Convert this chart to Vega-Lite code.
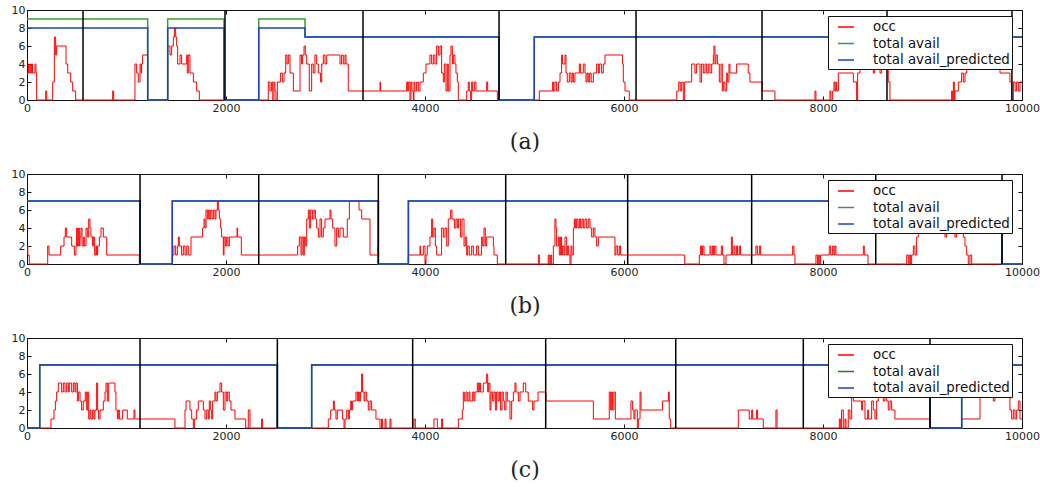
{
"$schema": "https://vega.github.io/schema/vega-lite/v6.json",
"background": "white",
"padding": {"left": 10, "top": 3, "right": 5, "bottom": 5},
"config": {
  "view": {"stroke": "#111", "strokeWidth": 1},
  "axis": {"grid": false, "domain": false, "labelFlush": false, "labelOverlap": false, "tickSize": -4, "tickColor": "#111", "tickWidth": 1, "labelFont": "DejaVu Sans", "labelFontSize": 11, "labelColor": "#222", "labelPadding": 6, "titleFont": "DejaVu Serif", "titleFontSize": 22, "titleFontWeight": "normal", "titleColor": "#222", "titlePadding": 18},
  "legend": {"orient": "none", "legendX": 801, "legendY": 6, "title": null, "symbolType": "stroke", "symbolSize": 256, "symbolStrokeWidth": 1.5, "labelFont": "DejaVu Sans", "labelFontSize": 13.4, "labelColor": "#111", "fillColor": "white", "strokeColor": "#111", "padding": 2, "symbolOffset": 7, "labelOffset": 18, "rowPadding": 0.5}
},
"datasets": {
  "occA": [{"x":0,"v":3},{"x":13,"v":4},{"x":20,"v":3},{"x":30,"v":4},{"x":38,"v":3},{"x":47,"v":4},{"x":55,"v":3},{"x":80,"v":4},{"x":90,"v":3},{"x":97,"v":0},{"x":188,"v":1},{"x":198,"v":0},{"x":258,"v":2},{"x":275,"v":7},{"x":288,"v":5},{"x":298,"v":6},{"x":392,"v":4},{"x":409,"v":3},{"x":439,"v":2},{"x":459,"v":1},{"x":489,"v":0},{"x":861,"v":1},{"x":871,"v":0},{"x":1085,"v":4},{"x":1102,"v":3},{"x":1119,"v":2},{"x":1136,"v":4},{"x":1146,"v":3},{"x":1152,"v":4},{"x":1162,"v":5},{"x":1213,"v":0},{"x":1414,"v":6},{"x":1437,"v":5},{"x":1454,"v":6},{"x":1471,"v":7},{"x":1481,"v":8},{"x":1494,"v":7},{"x":1504,"v":6},{"x":1514,"v":4},{"x":1538,"v":5},{"x":1554,"v":4},{"x":1605,"v":5},{"x":1611,"v":3},{"x":1621,"v":5},{"x":1638,"v":3},{"x":1672,"v":2},{"x":1705,"v":1},{"x":1732,"v":0},{"x":2425,"v":2},{"x":2442,"v":1},{"x":2459,"v":2},{"x":2470,"v":0},{"x":2482,"v":2},{"x":2492,"v":1},{"x":2502,"v":0},{"x":2516,"v":2},{"x":2549,"v":3},{"x":2566,"v":2},{"x":2583,"v":3},{"x":2600,"v":5},{"x":2613,"v":4},{"x":2626,"v":5},{"x":2643,"v":3},{"x":2677,"v":1},{"x":2744,"v":5},{"x":2760,"v":4},{"x":2770,"v":5},{"x":2784,"v":6},{"x":2797,"v":5},{"x":2811,"v":4},{"x":2837,"v":1},{"x":2861,"v":4},{"x":2877,"v":3},{"x":2894,"v":5},{"x":2911,"v":4},{"x":2928,"v":3},{"x":2951,"v":2},{"x":2962,"v":4},{"x":2978,"v":5},{"x":2995,"v":4},{"x":3012,"v":5},{"x":3146,"v":4},{"x":3162,"v":5},{"x":3179,"v":4},{"x":3196,"v":5},{"x":3206,"v":4},{"x":3229,"v":1},{"x":3548,"v":2},{"x":3554,"v":1},{"x":3816,"v":2},{"x":3826,"v":1},{"x":3836,"v":2},{"x":3849,"v":0},{"x":3859,"v":2},{"x":3869,"v":1},{"x":3883,"v":0},{"x":3889,"v":2},{"x":3899,"v":1},{"x":3916,"v":2},{"x":3933,"v":1},{"x":3950,"v":2},{"x":3983,"v":3},{"x":4010,"v":4},{"x":4050,"v":5},{"x":4067,"v":4},{"x":4084,"v":5},{"x":4100,"v":4},{"x":4117,"v":6},{"x":4134,"v":5},{"x":4151,"v":6},{"x":4167,"v":3},{"x":4184,"v":2},{"x":4194,"v":4},{"x":4211,"v":1},{"x":4224,"v":4},{"x":4234,"v":1},{"x":4251,"v":5},{"x":4261,"v":6},{"x":4275,"v":4},{"x":4285,"v":5},{"x":4301,"v":4},{"x":4311,"v":3},{"x":4325,"v":2},{"x":4335,"v":0},{"x":4419,"v":1},{"x":4435,"v":2},{"x":4445,"v":1},{"x":4459,"v":0},{"x":4469,"v":2},{"x":4479,"v":1},{"x":4496,"v":2},{"x":4512,"v":1},{"x":4620,"v":2},{"x":4630,"v":1},{"x":4727,"v":0},{"x":5149,"v":1},{"x":5283,"v":2},{"x":5290,"v":1},{"x":5306,"v":2},{"x":5323,"v":1},{"x":5340,"v":2},{"x":5357,"v":3},{"x":5373,"v":5},{"x":5383,"v":4},{"x":5407,"v":5},{"x":5417,"v":3},{"x":5430,"v":2},{"x":5450,"v":3},{"x":5467,"v":2},{"x":5480,"v":3},{"x":5491,"v":2},{"x":5507,"v":3},{"x":5551,"v":4},{"x":5564,"v":3},{"x":5591,"v":4},{"x":5608,"v":3},{"x":5618,"v":2},{"x":5630,"v":3},{"x":5641,"v":2},{"x":5655,"v":3},{"x":5670,"v":2},{"x":5692,"v":3},{"x":5725,"v":4},{"x":5742,"v":3},{"x":5752,"v":4},{"x":5775,"v":3},{"x":5792,"v":4},{"x":5809,"v":5},{"x":5986,"v":4},{"x":5993,"v":2},{"x":6010,"v":1},{"x":6053,"v":0},{"x":6530,"v":1},{"x":6550,"v":2},{"x":6565,"v":1},{"x":6580,"v":2},{"x":6596,"v":0},{"x":6610,"v":2},{"x":6680,"v":4},{"x":6713,"v":3},{"x":6730,"v":4},{"x":6764,"v":2},{"x":6780,"v":4},{"x":6797,"v":3},{"x":6814,"v":4},{"x":6831,"v":3},{"x":6847,"v":4},{"x":6864,"v":3},{"x":6881,"v":4},{"x":6898,"v":5},{"x":6904,"v":6},{"x":6914,"v":4},{"x":6924,"v":5},{"x":6938,"v":4},{"x":6958,"v":2},{"x":6975,"v":4},{"x":6988,"v":1},{"x":6998,"v":2},{"x":7015,"v":1},{"x":7032,"v":3},{"x":7042,"v":2},{"x":7055,"v":4},{"x":7065,"v":3},{"x":7132,"v":4},{"x":7249,"v":3},{"x":7266,"v":2},{"x":7390,"v":1},{"x":7517,"v":0},{"x":7919,"v":1},{"x":7929,"v":0},{"x":8070,"v":1},{"x":8080,"v":0},{"x":8097,"v":1},{"x":8110,"v":2},{"x":8120,"v":1},{"x":8130,"v":2},{"x":8137,"v":1},{"x":8154,"v":3},{"x":8305,"v":2},{"x":8338,"v":0},{"x":8348,"v":3},{"x":8372,"v":5},{"x":8506,"v":3},{"x":8520,"v":5},{"x":8573,"v":3},{"x":8590,"v":5},{"x":8630,"v":4},{"x":8656,"v":2},{"x":8673,"v":0},{"x":9293,"v":1},{"x":9300,"v":0},{"x":9310,"v":2},{"x":9320,"v":0},{"x":9326,"v":1},{"x":9360,"v":2},{"x":9393,"v":3},{"x":9410,"v":2},{"x":9427,"v":3},{"x":9444,"v":5},{"x":9712,"v":4},{"x":9779,"v":3},{"x":9879,"v":2},{"x":9896,"v":0},{"x":9913,"v":2},{"x":9930,"v":1},{"x":9946,"v":2},{"x":9963,"v":1},{"x":9980,"v":2},{"x":10000,"v":2}],
  "availA": [{"x":0,"v":9},{"x":1213,"v":0},{"x":1414,"v":9},{"x":1980,"v":0},{"x":2329,"v":9},{"x":2794,"v":7},{"x":4744,"v":0},{"x":5098,"v":7},{"x":10000,"v":7}],
  "predA": [{"x":0,"v":8},{"x":1213,"v":0},{"x":1414,"v":8},{"x":1980,"v":0},{"x":2329,"v":8},{"x":2794,"v":7},{"x":4744,"v":0},{"x":5098,"v":7},{"x":10000,"v":7}],
  "vlA": [{"x":563},{"x":1990},{"x":3377},{"x":4744},{"x":6121},{"x":7387},{"x":8643},{"x":9899}],
  "occB": [{"x":0,"v":2},{"x":8,"v":1},{"x":23,"v":0},{"x":208,"v":2},{"x":221,"v":1},{"x":338,"v":2},{"x":372,"v":3},{"x":385,"v":4},{"x":399,"v":3},{"x":449,"v":2},{"x":476,"v":1},{"x":492,"v":2},{"x":499,"v":4},{"x":506,"v":2},{"x":519,"v":4},{"x":526,"v":2},{"x":533,"v":3},{"x":543,"v":4},{"x":553,"v":2},{"x":566,"v":3},{"x":576,"v":2},{"x":593,"v":4},{"x":606,"v":3},{"x":620,"v":5},{"x":633,"v":4},{"x":643,"v":3},{"x":660,"v":2},{"x":667,"v":3},{"x":680,"v":1},{"x":693,"v":2},{"x":700,"v":1},{"x":710,"v":2},{"x":727,"v":3},{"x":744,"v":4},{"x":767,"v":3},{"x":801,"v":1},{"x":1129,"v":0},{"x":1461,"v":1},{"x":1477,"v":2},{"x":1494,"v":1},{"x":1511,"v":2},{"x":1521,"v":3},{"x":1531,"v":2},{"x":1554,"v":1},{"x":1571,"v":2},{"x":1588,"v":1},{"x":1605,"v":2},{"x":1621,"v":1},{"x":1648,"v":3},{"x":1765,"v":4},{"x":1779,"v":5},{"x":1789,"v":4},{"x":1799,"v":6},{"x":1812,"v":5},{"x":1822,"v":6},{"x":1832,"v":5},{"x":1846,"v":6},{"x":1859,"v":5},{"x":1873,"v":6},{"x":1889,"v":5},{"x":1899,"v":6},{"x":1913,"v":7},{"x":1923,"v":6},{"x":1933,"v":5},{"x":1946,"v":4},{"x":1956,"v":3},{"x":1973,"v":1},{"x":1980,"v":3},{"x":1993,"v":2},{"x":2007,"v":3},{"x":2020,"v":2},{"x":2033,"v":3},{"x":2111,"v":4},{"x":2117,"v":3},{"x":2154,"v":1},{"x":2720,"v":2},{"x":2737,"v":3},{"x":2754,"v":1},{"x":2764,"v":3},{"x":2777,"v":1},{"x":2787,"v":3},{"x":2797,"v":2},{"x":2811,"v":5},{"x":2827,"v":6},{"x":2837,"v":4},{"x":2851,"v":6},{"x":2868,"v":5},{"x":2884,"v":6},{"x":2898,"v":5},{"x":2911,"v":4},{"x":2928,"v":3},{"x":2945,"v":5},{"x":2961,"v":3},{"x":2978,"v":4},{"x":2995,"v":5},{"x":3045,"v":6},{"x":3055,"v":5},{"x":3072,"v":4},{"x":3095,"v":2},{"x":3112,"v":4},{"x":3129,"v":3},{"x":3146,"v":4},{"x":3179,"v":3},{"x":3219,"v":5},{"x":3240,"v":7},{"x":3337,"v":6},{"x":3364,"v":5},{"x":3447,"v":1},{"x":3524,"v":2},{"x":3531,"v":0},{"x":3832,"v":1},{"x":3950,"v":2},{"x":3956,"v":1},{"x":3983,"v":2},{"x":4000,"v":0},{"x":4010,"v":1},{"x":4023,"v":2},{"x":4050,"v":3},{"x":4067,"v":5},{"x":4077,"v":3},{"x":4090,"v":4},{"x":4104,"v":2},{"x":4117,"v":1},{"x":4167,"v":4},{"x":4184,"v":3},{"x":4201,"v":4},{"x":4218,"v":2},{"x":4234,"v":5},{"x":4258,"v":6},{"x":4271,"v":5},{"x":4295,"v":4},{"x":4311,"v":5},{"x":4325,"v":4},{"x":4338,"v":5},{"x":4358,"v":3},{"x":4372,"v":5},{"x":4392,"v":2},{"x":4405,"v":3},{"x":4419,"v":1},{"x":4429,"v":2},{"x":4445,"v":1},{"x":4469,"v":2},{"x":4486,"v":1},{"x":4519,"v":2},{"x":4536,"v":1},{"x":4569,"v":3},{"x":4580,"v":2},{"x":4593,"v":4},{"x":4606,"v":2},{"x":4620,"v":3},{"x":4687,"v":2},{"x":4693,"v":1},{"x":4727,"v":0},{"x":5139,"v":1},{"x":5149,"v":0},{"x":5239,"v":1},{"x":5249,"v":0},{"x":5263,"v":1},{"x":5273,"v":0},{"x":5290,"v":2},{"x":5306,"v":5},{"x":5316,"v":4},{"x":5323,"v":2},{"x":5340,"v":3},{"x":5350,"v":1},{"x":5363,"v":3},{"x":5373,"v":1},{"x":5383,"v":2},{"x":5397,"v":1},{"x":5407,"v":3},{"x":5424,"v":1},{"x":5434,"v":2},{"x":5444,"v":1},{"x":5457,"v":0},{"x":5467,"v":2},{"x":5477,"v":1},{"x":5491,"v":4},{"x":5501,"v":5},{"x":5511,"v":4},{"x":5524,"v":5},{"x":5538,"v":4},{"x":5551,"v":5},{"x":5564,"v":4},{"x":5578,"v":5},{"x":5591,"v":4},{"x":5608,"v":5},{"x":5625,"v":4},{"x":5641,"v":5},{"x":5658,"v":4},{"x":5675,"v":3},{"x":5692,"v":4},{"x":5708,"v":3},{"x":5725,"v":2},{"x":5742,"v":3},{"x":5909,"v":1},{"x":5919,"v":2},{"x":5936,"v":1},{"x":5953,"v":2},{"x":5966,"v":1},{"x":6610,"v":0},{"x":6757,"v":1},{"x":6770,"v":2},{"x":6780,"v":1},{"x":6790,"v":2},{"x":6804,"v":1},{"x":6864,"v":2},{"x":6874,"v":1},{"x":6888,"v":2},{"x":6898,"v":1},{"x":6908,"v":2},{"x":6924,"v":1},{"x":6978,"v":2},{"x":6991,"v":1},{"x":7005,"v":0},{"x":7025,"v":1},{"x":7079,"v":3},{"x":7089,"v":1},{"x":7105,"v":2},{"x":7115,"v":1},{"x":7132,"v":2},{"x":7142,"v":1},{"x":7159,"v":2},{"x":7172,"v":1},{"x":7326,"v":2},{"x":7340,"v":1},{"x":7360,"v":2},{"x":7373,"v":1},{"x":7695,"v":2},{"x":7708,"v":1},{"x":7718,"v":0},{"x":7929,"v":1},{"x":7943,"v":0},{"x":7953,"v":1},{"x":7963,"v":0},{"x":7976,"v":1},{"x":8063,"v":2},{"x":8077,"v":1},{"x":8097,"v":2},{"x":8110,"v":1},{"x":8120,"v":2},{"x":8130,"v":1},{"x":8405,"v":2},{"x":8415,"v":1},{"x":8452,"v":0},{"x":8841,"v":1},{"x":8857,"v":0},{"x":8867,"v":1},{"x":8881,"v":0},{"x":8891,"v":1},{"x":8908,"v":2},{"x":8924,"v":1},{"x":8941,"v":3},{"x":8958,"v":4},{"x":8975,"v":5},{"x":9226,"v":3},{"x":9243,"v":5},{"x":9326,"v":3},{"x":9343,"v":5},{"x":9410,"v":3},{"x":9427,"v":2},{"x":9444,"v":1},{"x":9460,"v":0},{"x":9477,"v":1},{"x":9494,"v":0},{"x":10000,"v":0}],
  "predB": [{"x":0,"v":7},{"x":1136,"v":0},{"x":1460,"v":7},{"x":3531,"v":0},{"x":3833,"v":7},{"x":9799,"v":0},{"x":10000,"v":0}],
  "vlB": [{"x":1136},{"x":2329},{"x":3531},{"x":4811},{"x":6037},{"x":7283},{"x":8530},{"x":9799}],
  "occC": [{"x":0,"v":0},{"x":241,"v":1},{"x":271,"v":2},{"x":285,"v":3},{"x":298,"v":4},{"x":315,"v":5},{"x":348,"v":4},{"x":365,"v":5},{"x":382,"v":4},{"x":399,"v":5},{"x":415,"v":4},{"x":425,"v":5},{"x":449,"v":4},{"x":466,"v":5},{"x":482,"v":4},{"x":492,"v":5},{"x":506,"v":3},{"x":516,"v":4},{"x":533,"v":3},{"x":549,"v":2},{"x":566,"v":3},{"x":586,"v":4},{"x":600,"v":2},{"x":610,"v":4},{"x":620,"v":1},{"x":633,"v":2},{"x":643,"v":1},{"x":660,"v":2},{"x":673,"v":1},{"x":683,"v":2},{"x":700,"v":5},{"x":710,"v":2},{"x":720,"v":1},{"x":734,"v":2},{"x":767,"v":3},{"x":784,"v":4},{"x":794,"v":5},{"x":807,"v":3},{"x":821,"v":5},{"x":884,"v":4},{"x":894,"v":2},{"x":908,"v":1},{"x":918,"v":2},{"x":928,"v":1},{"x":961,"v":2},{"x":1008,"v":1},{"x":1075,"v":2},{"x":1085,"v":1},{"x":1487,"v":0},{"x":1588,"v":2},{"x":1598,"v":3},{"x":1638,"v":2},{"x":1655,"v":1},{"x":1672,"v":0},{"x":1682,"v":1},{"x":1705,"v":2},{"x":1722,"v":3},{"x":1772,"v":2},{"x":1789,"v":1},{"x":1806,"v":2},{"x":1822,"v":1},{"x":1832,"v":3},{"x":1846,"v":2},{"x":1856,"v":1},{"x":1866,"v":3},{"x":1889,"v":4},{"x":1899,"v":3},{"x":1913,"v":4},{"x":1940,"v":5},{"x":1956,"v":4},{"x":1973,"v":2},{"x":1990,"v":4},{"x":2007,"v":3},{"x":2017,"v":4},{"x":2033,"v":3},{"x":2050,"v":2},{"x":2090,"v":1},{"x":2198,"v":0},{"x":2224,"v":2},{"x":2241,"v":0},{"x":2358,"v":1},{"x":2368,"v":0},{"x":3028,"v":1},{"x":3052,"v":2},{"x":3079,"v":3},{"x":3089,"v":2},{"x":3105,"v":1},{"x":3119,"v":2},{"x":3172,"v":1},{"x":3186,"v":0},{"x":3196,"v":1},{"x":3213,"v":2},{"x":3229,"v":1},{"x":3240,"v":2},{"x":3253,"v":3},{"x":3263,"v":2},{"x":3273,"v":3},{"x":3306,"v":4},{"x":3320,"v":3},{"x":3330,"v":4},{"x":3340,"v":3},{"x":3353,"v":4},{"x":3363,"v":6},{"x":3373,"v":4},{"x":3387,"v":3},{"x":3397,"v":4},{"x":3414,"v":3},{"x":3430,"v":2},{"x":3447,"v":3},{"x":3464,"v":2},{"x":3507,"v":1},{"x":3548,"v":0},{"x":3564,"v":1},{"x":3574,"v":0},{"x":3598,"v":1},{"x":3608,"v":0},{"x":3648,"v":1},{"x":3658,"v":0},{"x":3889,"v":1},{"x":3903,"v":0},{"x":4090,"v":1},{"x":4124,"v":0},{"x":4167,"v":1},{"x":4177,"v":0},{"x":4335,"v":1},{"x":4375,"v":2},{"x":4385,"v":4},{"x":4395,"v":3},{"x":4412,"v":4},{"x":4425,"v":3},{"x":4442,"v":4},{"x":4452,"v":3},{"x":4479,"v":4},{"x":4492,"v":3},{"x":4502,"v":4},{"x":4526,"v":5},{"x":4536,"v":4},{"x":4546,"v":5},{"x":4559,"v":4},{"x":4586,"v":5},{"x":4620,"v":6},{"x":4630,"v":4},{"x":4640,"v":5},{"x":4653,"v":2},{"x":4663,"v":4},{"x":4680,"v":3},{"x":4693,"v":4},{"x":4707,"v":2},{"x":4720,"v":4},{"x":4734,"v":3},{"x":4747,"v":4},{"x":4760,"v":2},{"x":4774,"v":4},{"x":4787,"v":3},{"x":4801,"v":2},{"x":4814,"v":4},{"x":4827,"v":3},{"x":4854,"v":1},{"x":4871,"v":3},{"x":4888,"v":4},{"x":4904,"v":5},{"x":4914,"v":4},{"x":4938,"v":3},{"x":4955,"v":4},{"x":4988,"v":5},{"x":5012,"v":4},{"x":5038,"v":3},{"x":5082,"v":2},{"x":5095,"v":3},{"x":5136,"v":4},{"x":5216,"v":3},{"x":5692,"v":1},{"x":5852,"v":4},{"x":5866,"v":2},{"x":5876,"v":4},{"x":5886,"v":2},{"x":5899,"v":4},{"x":5913,"v":1},{"x":6070,"v":3},{"x":6087,"v":2},{"x":6100,"v":1},{"x":6110,"v":2},{"x":6134,"v":0},{"x":6144,"v":1},{"x":6161,"v":4},{"x":6171,"v":2},{"x":6388,"v":3},{"x":6446,"v":4},{"x":6455,"v":1},{"x":6469,"v":0},{"x":7149,"v":2},{"x":7259,"v":1},{"x":7283,"v":2},{"x":7293,"v":1},{"x":7333,"v":2},{"x":7343,"v":1},{"x":7400,"v":0},{"x":7527,"v":2},{"x":7538,"v":0},{"x":8164,"v":1},{"x":8174,"v":0},{"x":8187,"v":2},{"x":8204,"v":0},{"x":8221,"v":1},{"x":8231,"v":0},{"x":8254,"v":2},{"x":8271,"v":1},{"x":8288,"v":4},{"x":8305,"v":3},{"x":8388,"v":2},{"x":8398,"v":3},{"x":8422,"v":1},{"x":8449,"v":2},{"x":8456,"v":1},{"x":8489,"v":3},{"x":8506,"v":2},{"x":8522,"v":1},{"x":8539,"v":3},{"x":8556,"v":4},{"x":8606,"v":3},{"x":8623,"v":4},{"x":8640,"v":3},{"x":8656,"v":2},{"x":8673,"v":3},{"x":8690,"v":2},{"x":8723,"v":1},{"x":9075,"v":0},{"x":9393,"v":1},{"x":9578,"v":4},{"x":9712,"v":3},{"x":9728,"v":5},{"x":9862,"v":4},{"x":9879,"v":2},{"x":9896,"v":1},{"x":9913,"v":2},{"x":9930,"v":1},{"x":9946,"v":2},{"x":9963,"v":3},{"x":9980,"v":1},{"x":10000,"v":1}],
  "predC": [{"x":0,"v":0},{"x":128,"v":7},{"x":2516,"v":0},{"x":2861,"v":7},{"x":9075,"v":0},{"x":9394,"v":7},{"x":10000,"v":7}],
  "vlC": [{"x":1136},{"x":2516},{"x":3876},{"x":5213},{"x":6520},{"x":7802},{"x":9075}]
},
"spacing": 74,
"bounds": "flush",
"vconcat": [
 {
  "width": 995, "height": 90,
  "resolve": {"axis": {"x": "independent", "y": "independent"}},
  "layer": [
   {"data": {"name": "occA"}, "mark": {"type": "line", "interpolate": "step-after", "strokeWidth": 1},
    "encoding": {
     "x": {"field": "x", "type": "quantitative", "scale": {"domain": [0, 10000], "nice": false}, "axis": {"values": [0, 2000, 4000, 6000, 8000, 10000], "format": "d", "title": "(a)"}},
     "y": {"field": "v", "type": "quantitative", "scale": {"domain": [0, 10], "nice": false}, "axis": {"values": [0, 2, 4, 6, 8, 10], "title": null}},
     "color": {"datum": "occ", "scale": {"domain": ["occ", "total avail", "total avail_predicted"], "range": ["#ff0000", "#3c9a3c", "#2040c8"]}, "legend": {}}
    }},
   {"data": {"name": "availA"}, "mark": {"type": "line", "interpolate": "step-after", "strokeWidth": 1.5},
    "encoding": {
     "x": {"field": "x", "type": "quantitative", "axis": null},
     "y": {"field": "v", "type": "quantitative", "axis": {"orient": "right", "values": [0, 2, 4, 6, 8, 10], "labels": false, "title": null}},
     "color": {"datum": "total avail"}
    }},
   {"data": {"name": "predA"}, "mark": {"type": "line", "interpolate": "step-after", "strokeWidth": 1.5},
    "encoding": {
     "x": {"field": "x", "type": "quantitative", "axis": null},
     "y": {"field": "v", "type": "quantitative", "axis": null},
     "color": {"datum": "total avail_predicted"}
    }},
   {"data": {"name": "vlA"}, "mark": {"type": "rule", "color": "#000", "strokeWidth": 1.5},
    "encoding": {
     "x": {"field": "x", "type": "quantitative", "axis": {"orient": "top", "values": [0, 2000, 4000, 6000, 8000, 10000], "labels": false, "title": null}}
    }}
  ]
 },
 {
  "width": 995, "height": 90,
  "resolve": {"axis": {"x": "independent", "y": "independent"}},
  "layer": [
   {"data": {"name": "occB"}, "mark": {"type": "line", "interpolate": "step-after", "strokeWidth": 1},
    "encoding": {
     "x": {"field": "x", "type": "quantitative", "scale": {"domain": [0, 10000], "nice": false}, "axis": {"values": [0, 2000, 4000, 6000, 8000, 10000], "format": "d", "title": "(b)"}},
     "y": {"field": "v", "type": "quantitative", "scale": {"domain": [0, 10], "nice": false}, "axis": {"values": [0, 2, 4, 6, 8, 10], "title": null}},
     "color": {"datum": "occ", "scale": {"domain": ["occ", "total avail", "total avail_predicted"], "range": ["#ff0000", "#3c9a3c", "#2040c8"]}, "legend": {}}
    }},
   {"data": {"name": "predB"}, "mark": {"type": "line", "interpolate": "step-after", "strokeWidth": 1.5},
    "encoding": {
     "x": {"field": "x", "type": "quantitative", "axis": null},
     "y": {"field": "v", "type": "quantitative", "axis": {"orient": "right", "values": [0, 2, 4, 6, 8, 10], "labels": false, "title": null}},
     "color": {"datum": "total avail"}
    }},
   {"data": {"name": "predB"}, "mark": {"type": "line", "interpolate": "step-after", "strokeWidth": 1.5},
    "encoding": {
     "x": {"field": "x", "type": "quantitative", "axis": null},
     "y": {"field": "v", "type": "quantitative", "axis": null},
     "color": {"datum": "total avail_predicted"}
    }},
   {"data": {"name": "vlB"}, "mark": {"type": "rule", "color": "#000", "strokeWidth": 1.5},
    "encoding": {
     "x": {"field": "x", "type": "quantitative", "axis": {"orient": "top", "values": [0, 2000, 4000, 6000, 8000, 10000], "labels": false, "title": null}}
    }}
  ]
 },
 {
  "width": 995, "height": 90,
  "resolve": {"axis": {"x": "independent", "y": "independent"}},
  "layer": [
   {"data": {"name": "occC"}, "mark": {"type": "line", "interpolate": "step-after", "strokeWidth": 1},
    "encoding": {
     "x": {"field": "x", "type": "quantitative", "scale": {"domain": [0, 10000], "nice": false}, "axis": {"values": [0, 2000, 4000, 6000, 8000, 10000], "format": "d", "title": "(c)"}},
     "y": {"field": "v", "type": "quantitative", "scale": {"domain": [0, 10], "nice": false}, "axis": {"values": [0, 2, 4, 6, 8, 10], "title": null}},
     "color": {"datum": "occ", "scale": {"domain": ["occ", "total avail", "total avail_predicted"], "range": ["#ff0000", "#2a7a2a", "#2040c8"]}, "legend": {}}
    }},
   {"data": {"name": "predC"}, "mark": {"type": "line", "interpolate": "step-after", "strokeWidth": 1.5},
    "encoding": {
     "x": {"field": "x", "type": "quantitative", "axis": null},
     "y": {"field": "v", "type": "quantitative", "axis": {"orient": "right", "values": [0, 2, 4, 6, 8, 10], "labels": false, "title": null}},
     "color": {"datum": "total avail"}
    }},
   {"data": {"name": "predC"}, "mark": {"type": "line", "interpolate": "step-after", "strokeWidth": 1.5},
    "encoding": {
     "x": {"field": "x", "type": "quantitative", "axis": null},
     "y": {"field": "v", "type": "quantitative", "axis": null},
     "color": {"datum": "total avail_predicted"}
    }},
   {"data": {"name": "vlC"}, "mark": {"type": "rule", "color": "#000", "strokeWidth": 1.5},
    "encoding": {
     "x": {"field": "x", "type": "quantitative", "axis": {"orient": "top", "values": [0, 2000, 4000, 6000, 8000, 10000], "labels": false, "title": null}}
    }}
  ]
 }
],
"resolve": {"scale": {"color": "independent"}, "legend": {"color": "independent"}}
}
